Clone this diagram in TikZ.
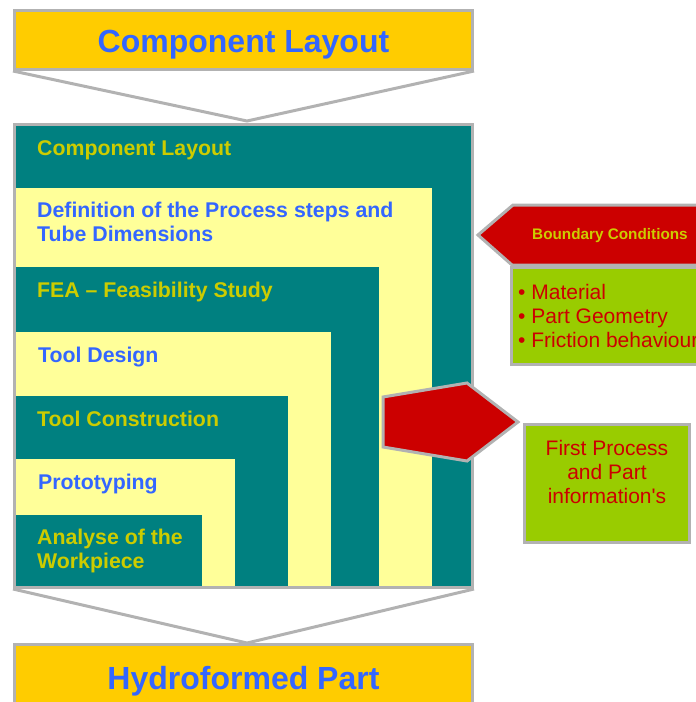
\documentclass[tikz,border=0pt]{standalone}
\usepackage{fontspec}
\setmainfont{Liberation Sans}
\usepackage{tikz}
\usetikzlibrary{positioning}

\definecolor{stageteal}{HTML}{008080}
\definecolor{stageyellow}{HTML}{FFFF99}
\definecolor{boxgold}{HTML}{FFCC00}
\definecolor{headblue}{HTML}{3366FF}
\definecolor{textolive}{HTML}{CCCC00}
\definecolor{arrowred}{HTML}{CC0000}
\definecolor{infogreen}{HTML}{99CC00}
\definecolor{framegray}{HTML}{B2B2B2}

\tikzset{
  frame/.style={draw=framegray,line width=3pt},
  headtext/.style={font=\fontsize{32}{36}\selectfont\bfseries,text=headblue,anchor=base,inner sep=0pt},
  stagetext/.style={font=\fontsize{21.3}{24}\selectfont\bfseries,anchor=base west,align=left,inner sep=0pt},
  infotext/.style={font=\fontsize{21}{24}\selectfont,text=arrowred,inner sep=0pt}
}

\begin{document}
\begin{tikzpicture}[x=1pt,y=-1pt]

\useasboundingbox (0,0) rectangle (696,702);

% input and output
\node[frame,fill=boxgold,minimum width=458pt,minimum height=59pt,inner sep=0pt] (layout) at (243.5,40) {};
\node[headtext] (layouttext) at (243.5,52) {Component Layout};

\node[frame,fill=boxgold,minimum width=458pt,minimum height=75pt,inner sep=0pt] (part) at (243.5,682) {};
\node[headtext] (parttext) at (243.5,689) {Hydroformed Part};

% process steps
\fill[stageteal] (16,126) rectangle (471,586);
\fill[stageyellow] (16,188) rectangle (432,586);
\fill[stageteal] (16,267) rectangle (379,586);
\fill[stageyellow] (16,332) rectangle (331,586);
\fill[stageteal] (16,396) rectangle (288,586);
\fill[stageyellow] (16,459) rectangle (235,586);
\fill[stageteal] (16,515) rectangle (202,586);

\node[frame,minimum width=458pt,minimum height=463pt,inner sep=0pt] (flow) at (243.5,356) {};

% multi-line texts sit on the baseline of their last line
\node[stagetext,text=textolive] (s1) at (37,155) {Component Layout};
\node[stagetext,text=headblue] (s2) at (37,241) {Definition of the Process steps and\\Tube Dimensions};
\node[stagetext,text=textolive] (s3) at (37,297) {FEA -- Feasibility Study};
\node[stagetext,text=headblue] (s4) at (38,362) {Tool Design};
\node[stagetext,text=textolive] (s5) at (37,426) {Tool Construction};
\node[stagetext,text=headblue] (s6) at (38,489) {Prototyping};
\node[stagetext,text=textolive] (s7) at (37,568) {Analyse of the\\Workpiece};

% funnels
\coordinate (intop) at (247,121);
\coordinate (inbottom) at (247,643);
\draw[frame] (layout.south west) -- (intop) -- (layout.south east);
\draw[frame] (flow.south west) -- (inbottom) -- (flow.south east);

% boundary conditions
\draw[frame,fill=arrowred] (478,235) -- (513,205) -- (730,205) -- (730,265) -- (512,265) -- cycle;
\node[font=\fontsize{15.3}{18}\selectfont\bfseries,text=textolive,anchor=base west,inner sep=0pt] (bc) at (532,239) {Boundary Conditions};
\draw[frame,fill=infogreen] (511.5,267.5) rectangle (730,364);
\node[infotext,anchor=base west,align=left] (bclist) at (518,347) {\textbullet\ Material\\\textbullet\ Part Geometry\\\textbullet\ Friction behaviour};

% first information
\draw[frame,fill=arrowred] (383,397) -- (467,383) -- (518,422) -- (467,461) -- (383,447) -- cycle;
\node[frame,fill=infogreen,minimum width=165pt,minimum height=118pt,inner sep=0pt] (info) at (607,483.5) {};
\node[infotext,anchor=base,align=center] (infotext) at (607,503) {First Process\\and Part\\information\textquotesingle s};

\end{tikzpicture}
\end{document}
